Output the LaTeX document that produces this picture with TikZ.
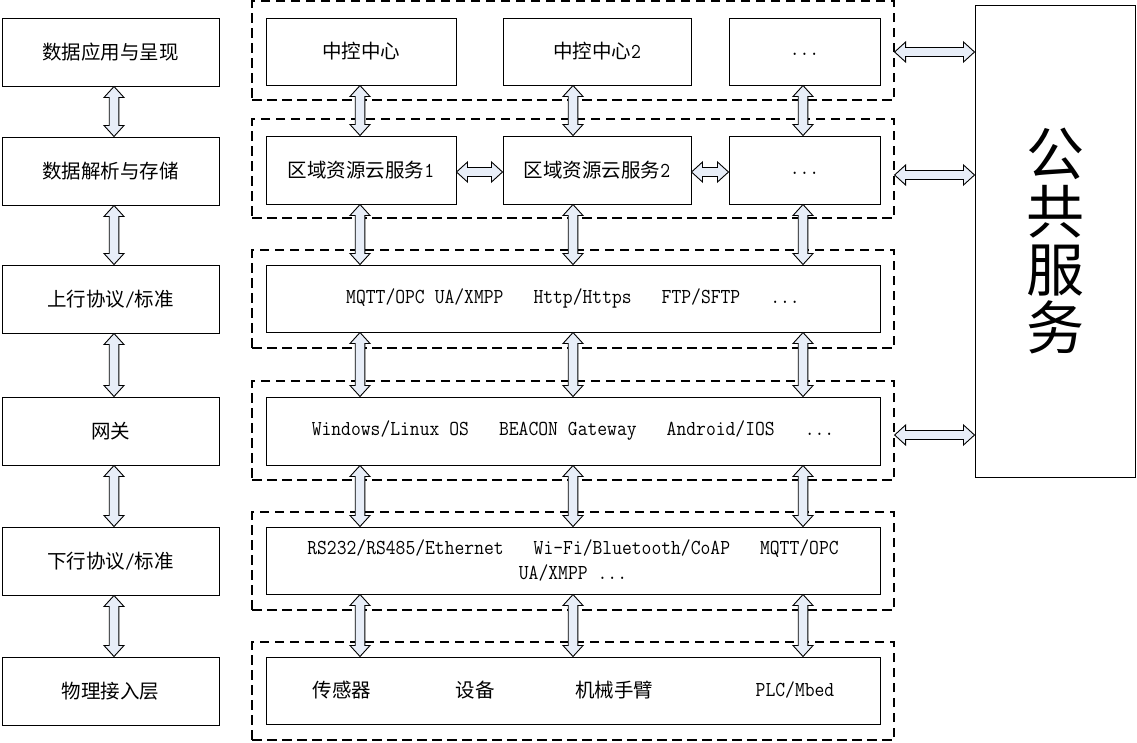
\documentclass[tikz,border=0pt]{standalone}
\usepackage{fontspec}
\setmainfont{Liberation Serif}
\newfontfamily\cjkf{Noto Sans CJK SC}
\usetikzlibrary{calc}
\definecolor{arrfill}{RGB}{232,238,248}
\newcommand\monosel{\ttfamily\fontsize{21.3}{25}\selectfont}
\newcommand\sq[1]{\scalebox{0.895}[1]{#1}}
\newcommand\lt[1]{{\monosel\sq{#1}}}
\newcommand\one{\hspace{11.18pt}}
\newcommand\three{\hspace{33.55pt}}
% vertical block double arrow from #1 (top) to #2 (bottom)
\newcommand\varrow[2]{%
  \path[blockarr] let \p1=(#1), \p2=(#2) in
    (\x1,\y1) -- (\x1+10pt,\y1-11pt) -- (\x1+4.8pt,\y1-11pt) -- (\x1+4.8pt,\y2+11pt)
    -- (\x1+10pt,\y2+11pt) -- (\x1,\y2) -- (\x1-10pt,\y2+11pt) -- (\x1-4.8pt,\y2+11pt)
    -- (\x1-4.8pt,\y1-11pt) -- (\x1-10pt,\y1-11pt) -- cycle;}
% horizontal block double arrow from #1 (left) to #2 (right)
\newcommand\harrow[2]{%
  \path[blockarr] let \p1=(#1), \p2=(#2) in
    (\x1,\y1) -- (\x1+11pt,\y1+10pt) -- (\x1+11pt,\y1+4.5pt) -- (\x2-11pt,\y1+4.5pt)
    -- (\x2-11pt,\y1+10pt) -- (\x2,\y1) -- (\x2-11pt,\y1-10pt) -- (\x2-11pt,\y1-4.5pt)
    -- (\x1+11pt,\y1-4.5pt) -- (\x1+11pt,\y1-10pt) -- cycle;}
\tikzset{
  cn/.style={font=\cjkf\fontsize{19.5}{24}\selectfont},
  en/.style={font=\monosel},
  box/.style={draw, line width=1pt, inner sep=0pt, align=center},
  lbox/.style={box, cn, minimum width=217pt, minimum height=68pt},
  tbox/.style={box, cn, minimum height=67pt},
  wbox/.style={box, en, minimum width=614pt, minimum height=67pt},
  group/.style={draw, line width=1.2pt, dash pattern=on 9.5pt off 5.5pt, minimum width=642pt, inner sep=0pt},
  blockarr/.style={draw, fill=arrfill, line width=0.9pt, line join=miter},
}
\begin{document}
\begin{tikzpicture}[x=1pt,y=-1pt]
\useasboundingbox (0,0) rectangle (1137,742);
% column coordinates for arrows
\coordinate (colL) at (114,0);
\coordinate (colA) at (360,0);
\coordinate (colB) at (573,0);
\coordinate (colC) at (803,0);

% left column
\node[lbox] (L1) at (110.5,52) {数据应用与呈现};
\node[lbox] (L2) at (110.5,171) {数据解析与存储};
\node[lbox] (L3) at (110.5,299) {上行协议\lt{/}标准};
\node[lbox] (L4) at (110.5,431) {网关};
\node[lbox] (L5) at (110.5,561) {下行协议\lt{/}标准};
\node[lbox] (L6) at (110.5,691) {物理接入层};

% dashed groups
\node[group, minimum height=99pt] (D1) at (573,50.5) {};
\node[group, minimum height=99pt] (D2) at (573,168.5) {};
\node[group, minimum height=98pt] (D3) at (573,299) {};
\node[group, minimum height=99pt] (D4) at (573,430.5) {};
\node[group, minimum height=98pt] (D5) at (573,561) {};
\node[group, minimum height=98pt] (D6) at (573,691) {};

% row 1
\node[tbox, minimum width=190pt] (T1) at (361,51.5) {中控中心};
\node[tbox, minimum width=188pt] (T2) at (597,51.5) {中控中心\lt{2}};
\node[tbox, minimum width=151pt] (T3) at (804.5,51.5) {\lt{\vphantom{Hg}...}};
% row 2
\node[tbox, minimum width=190pt, minimum height=68pt] (R1) at (361,170) {区域资源云服务\lt{1}};
\node[tbox, minimum width=188pt, minimum height=68pt] (R2) at (597,170) {区域资源云服务\lt{2}};
\node[tbox, minimum width=151pt, minimum height=68pt] (R3) at (804.5,170) {\lt{\vphantom{Hg}...}};
% wide rows
\node[wbox] (W3) at (573,298.5) {\sq{MQTT/OPC\one UA/XMPP\three Http/Https\three FTP/SFTP\three ...}};
\node[wbox, minimum height=68pt] (W4) at (573,431) {\sq{Windows/Linux\one OS\three BEACON\one Gateway\three Android/IOS\three ...}};
\node[wbox] (W5) at (573,560.5) {\sq{RS232/RS485/Ethernet\three Wi-Fi/Bluetooth/CoAP\three MQTT/OPC}\\\sq{UA/XMPP\one ...}};
\node[wbox] (W6) at (573,690.5) {};
\node[cn, inner sep=0pt] (S1) at (342,690) {传感器};
\node[cn, inner sep=0pt] (S2) at (475,690) {设备};
\node[cn, inner sep=0pt] (S3) at (614,690) {机械手臂};
\node[en, inner sep=0pt] (S4) at (795,690) {\sq{PLC/Mbed}};

% public service
\node[box, minimum width=160pt, minimum height=472pt, font=\cjkf\fontsize{58}{58}\selectfont] (P) at (1055,241) {公\\共\\服\\务};

% left arrows
\varrow{L1.south -| colL}{L2.north -| colL}
\varrow{L2.south -| colL}{L3.north -| colL}
\varrow{L3.south -| colL}{L4.north -| colL}
\varrow{L4.south -| colL}{L5.north -| colL}
\varrow{L5.south -| colL}{L6.north -| colL}

% middle arrows
\varrow{T1.south -| colA}{R1.north -| colA}
\varrow{T2.south -| colB}{R2.north -| colB}
\varrow{T3.south -| colC}{R3.north -| colC}
\varrow{R1.south -| colA}{W3.north -| colA}
\varrow{R2.south -| colB}{W3.north -| colB}
\varrow{R3.south -| colC}{W3.north -| colC}
\foreach \u/\v in {W3/W4, W4/W5, W5/W6}{
  \varrow{\u.south -| colA}{\v.north -| colA}
  \varrow{\u.south -| colB}{\v.north -| colB}
  \varrow{\u.south -| colC}{\v.north -| colC}
}

% horizontal arrows
\harrow{[yshift=-2pt]R1.east}{[yshift=-2pt]R2.west}
\harrow{[yshift=-2pt]R2.east}{[yshift=-2pt]R3.west}
\harrow{[yshift=-1.5pt]D1.east}{[yshift=-1.5pt]D1.east -| P.west}
\harrow{[yshift=-6.5pt]D2.east}{[yshift=-6.5pt]D2.east -| P.west}
\harrow{[yshift=-4.5pt]D4.east}{[yshift=-4.5pt]D4.east -| P.west}
\end{tikzpicture}
\end{document}
